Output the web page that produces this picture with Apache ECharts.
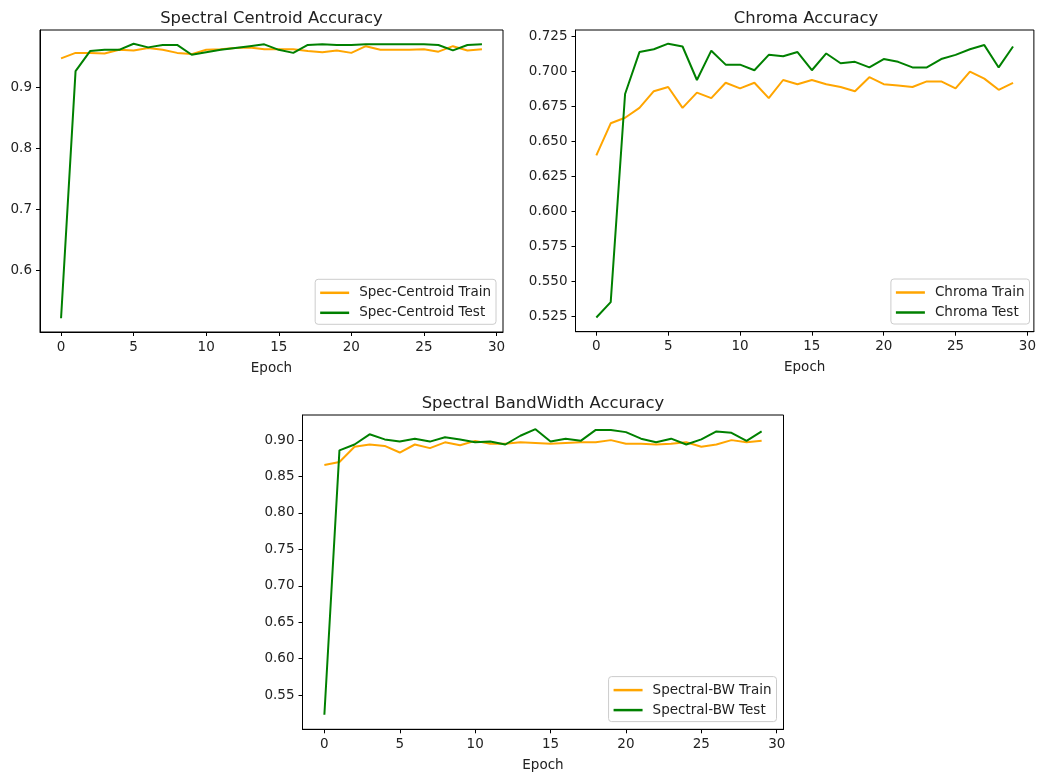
<!DOCTYPE html>
<html>
<head>
<meta charset="utf-8">
<script src="https://cdn.jsdelivr.net/npm/echarts@6/dist/echarts.min.js"></script>
<style>
html,body{margin:0;padding:0;background:#fff;}
#c{width:1039px;height:776px;}
</style>
</head>
<body>
<div id="c"></div>
<script>
const epochs = [0,1,2,3,4,5,6,7,8,9,10,11,12,13,14,15,16,17,18,19,20,21,22,23,24,25,26,27,28,29];
const xTicks = [0,5,10,15,20,25,30];

const centroidTrain = [0.948,0.957,0.957,0.956,0.962,0.961,0.965,0.962,0.957,0.955,0.962,0.963,0.965,0.966,0.963,0.963,0.963,0.960,0.958,0.961,0.957,0.968,0.962,0.962,0.962,0.963,0.959,0.968,0.961,0.963];
const centroidTest = [0.522,0.927,0.960,0.962,0.962,0.972,0.966,0.970,0.970,0.954,0.958,0.962,0.965,0.968,0.971,0.962,0.957,0.970,0.971,0.970,0.970,0.971,0.971,0.971,0.971,0.971,0.970,0.961,0.970,0.971];
const centroidTicks = [0.6,0.7,0.8,0.9];

const chromaTrain = [0.640,0.663,0.667,0.674,0.686,0.689,0.674,0.685,0.681,0.692,0.688,0.692,0.681,0.694,0.691,0.694,0.691,0.689,0.686,0.696,0.691,0.690,0.689,0.693,0.693,0.688,0.700,0.695,0.687,0.692];
const chromaTest = [0.524,0.535,0.684,0.714,0.716,0.720,0.718,0.694,0.715,0.705,0.705,0.701,0.712,0.711,0.714,0.701,0.713,0.706,0.707,0.703,0.709,0.707,0.703,0.703,0.709,0.712,0.716,0.719,0.703,0.718];
const chromaTicks = [0.525,0.55,0.575,0.6,0.625,0.65,0.675,0.7,0.725];

const bwTrain = [0.866,0.870,0.891,0.894,0.892,0.883,0.894,0.889,0.897,0.893,0.899,0.895,0.895,0.897,0.896,0.895,0.896,0.897,0.897,0.900,0.895,0.895,0.894,0.895,0.897,0.891,0.894,0.900,0.897,0.899];
const bwTest = [0.523,0.886,0.894,0.908,0.901,0.898,0.902,0.898,0.904,0.901,0.897,0.898,0.894,0.906,0.915,0.898,0.902,0.899,0.914,0.914,0.911,0.902,0.897,0.902,0.894,0.901,0.912,0.910,0.899,0.912];
const bwTicks = [0.55,0.6,0.65,0.7,0.75,0.8,0.85,0.9];

const titles = ['Spectral Centroid Accuracy','Chroma Accuracy','Spectral BandWidth Accuracy'];
const names = [['Spec-Centroid Train','Spec-Centroid Test'],['Chroma Train','Chroma Test'],['Spectral-BW Train','Spectral-BW Test']];

const FONT = 'DejaVu Sans';
const TXT = '#222';
const ORANGE = '#ffa500';
const GREEN = '#008000';
const FS = 13.5;

const grids = [
  {left:40, top:30, width:463, height:302},
  {left:575.5, top:30, width:461, height:301.7},
  {left:302.5, top:415, width:481, height:314.3}
];
const yRanges = [[0.4995,0.9945],[0.5138,0.7298],[0.503,0.9345]];
const yTicks = [centroidTicks, chromaTicks, bwTicks];
const yDec = [1,3,2];
const seriesData = [[centroidTrain,centroidTest],[chromaTrain,chromaTest],[bwTrain,bwTest]];

const pair = arr => epochs.map((e,i)=>[e,arr[i]]);

const option = {
  animation:false,
  backgroundColor:'#fff',
  textStyle:{fontFamily:FONT},
  title: grids.map((g,i)=>({
    text: titles[i],
    left: g.left + g.width/2,
    top: g.top - 19.5,
    textAlign:'center',
    padding:0,
    textStyle:{fontFamily:FONT,fontSize:16.4,fontWeight:'normal',color:TXT}
  })),
  grid: grids.map(g=>Object.assign({show:true,borderColor:'#000',borderWidth:1,backgroundColor:'transparent',containLabel:false},g)),
  legend: grids.map((g,i)=>({
    data: names[i],
    orient:'vertical',
    right: 1039 - (g.left + g.width - 7),
    bottom: 776 - (g.top + g.height - 7.7),
    icon:'rect',
    itemWidth:29,
    itemHeight:2.5,
    itemGap:6,
    padding:[6.5,5,4.5,5],
    borderColor:'#cccccc',
    borderWidth:1,
    borderRadius:3,
    backgroundColor:'rgba(255,255,255,0.8)',
    textStyle:{fontFamily:FONT,fontSize:FS,color:TXT,padding:[0,0,0,5]}
  })),
  xAxis: grids.map((g,i)=>({
    type:'value',
    gridIndex:i,
    min:-1.45,
    max:30.45,
    name:'Epoch',
    nameLocation:'middle',
    nameGap:29,
    nameTextStyle:{fontFamily:FONT,fontSize:FS,color:TXT},
    axisLine:{show:true,onZero:false,lineStyle:{color:'#000',width:1}},
    splitLine:{show:false},
    axisTick:{show:true,length:4,lineStyle:{color:'#000'},customValues:xTicks},
    axisLabel:{fontFamily:FONT,fontSize:FS,color:TXT,margin:8,customValues:xTicks,formatter:v=>String(Math.round(v))}
  })),
  yAxis: grids.map((g,i)=>({
    type:'value',
    gridIndex:i,
    min:yRanges[i][0],
    max:yRanges[i][1],
    axisLine:{show:true,onZero:false,lineStyle:{color:'#000',width:1}},
    splitLine:{show:false},
    axisTick:{show:true,length:4,lineStyle:{color:'#000'},customValues:yTicks[i]},
    axisLabel:{fontFamily:FONT,fontSize:FS,color:TXT,margin:8,customValues:yTicks[i],formatter:v=>Number(v).toFixed(yDec[i])}
  })),
  series: []
};
seriesData.forEach((pairSet,i)=>{
  option.series.push({
    type:'line', name:names[i][0], xAxisIndex:i, yAxisIndex:i,
    data:pair(pairSet[0]), symbol:'none', color:ORANGE,
    lineStyle:{color:ORANGE,width:2}, z:2
  });
  option.series.push({
    type:'line', name:names[i][1], xAxisIndex:i, yAxisIndex:i,
    data:pair(pairSet[1]), symbol:'none', color:GREEN,
    lineStyle:{color:GREEN,width:2}, z:3
  });
});
const chart = echarts.init(document.getElementById('c'),null,{renderer:'canvas'});
chart.setOption(option);
</script>
</body>
</html>
